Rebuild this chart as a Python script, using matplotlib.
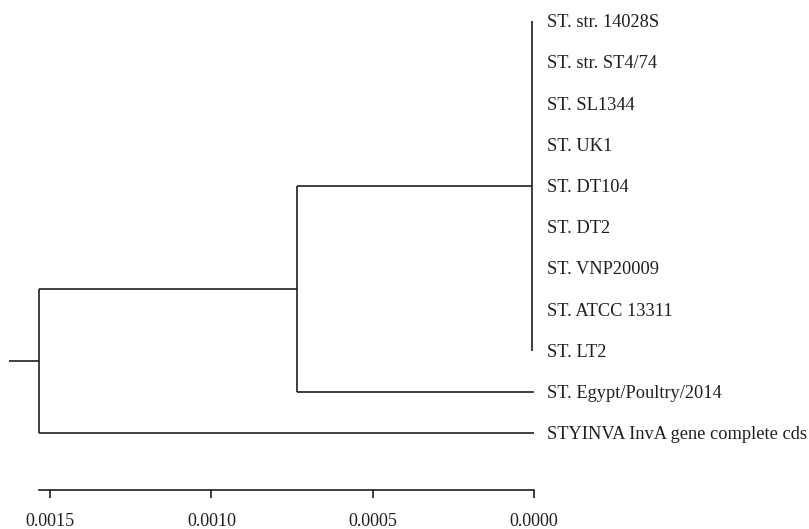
import matplotlib
matplotlib.use("Agg")
import matplotlib.pyplot as plt

# leaf labels, top to bottom
leaves = [
    "ST. str. 14028S",
    "ST. str. ST4/74",
    "ST. SL1344",
    "ST. UK1",
    "ST. DT104",
    "ST. DT2",
    "ST. VNP20009",
    "ST. ATCC 13311",
    "ST. LT2",
    "ST. Egypt/Poultry/2014",
    "STYINVA InvA gene complete cds",
]

# node heights (distance from the tips)
cluster_height = 0.000007
inner_height = 0.000735
root_height = 0.001534
root_edge_top = 0.001628

# topology: polytomy of the first nine leaves, then Egypt, then InvA
cluster_members = list(range(9))
egypt_leaf = 9
inva_leaf = 10

scale_ticks = [0.0015, 0.0010, 0.0005, 0.0000]

plt.rcParams["font.family"] = ["Liberation Serif", "DejaVu Serif"]
LINE = "#1e1e1e"
LW = 1.2

fig = plt.figure(figsize=(8.09, 5.29), dpi=100)
ax = fig.add_axes([0.0, 39 / 529, 1.0, 490 / 529])


def hline(y, x0, x1):
    ax.plot([x0, x1], [y, y], color=LINE, lw=LW, solid_capstyle="butt")


def vline(x, y0, y1):
    ax.plot([x, x], [y0, y1], color=LINE, lw=LW, solid_capstyle="butt")


# cluster (tip branches are ~zero length, only the vertical shows)
vline(cluster_height, cluster_members[0], cluster_members[-1])
cluster_y = (cluster_members[0] + cluster_members[-1]) / 2

# inner node: cluster + Egypt
hline(cluster_y, inner_height, cluster_height)
hline(egypt_leaf, inner_height, 0.0)
vline(inner_height, cluster_y, egypt_leaf)
inner_y = (cluster_y + egypt_leaf) / 2

# root: inner + InvA
hline(inner_y, root_height, inner_height)
hline(inva_leaf, root_height, 0.0)
vline(root_height, inner_y, inva_leaf)
root_y = (inner_y + inva_leaf) / 2
hline(root_y, root_edge_top, root_height)

for i, name in enumerate(leaves):
    ax.annotate(name, (0.0, i), xytext=(9.1, -1.2), textcoords="offset points",
                va="center", ha="left", fontsize=13.25, color="#1e1e1e")

px = 322600.0  # pixels per unit of distance
ax.set_xlim(534 / px, (534 - 809) / px)
ax.set_ylim((490 - 21) / 41.2, -21 / 41.2)

for side in ("top", "right", "left"):
    ax.spines[side].set_visible(False)
ax.spines["bottom"].set_bounds(root_height, 0.0)
ax.spines["bottom"].set_color(LINE)
ax.spines["bottom"].set_linewidth(LW)
ax.set_yticks([])
ax.set_xticks(scale_ticks)
ax.set_xticklabels([f"{t:.4f}" for t in scale_ticks])
ax.tick_params(axis="x", direction="out", length=5.8, width=LW, color=LINE,
               labelsize=13, labelcolor="#1e1e1e", pad=10.5)
ax.patch.set_visible(False)

fig.savefig("out.png", dpi=100)
